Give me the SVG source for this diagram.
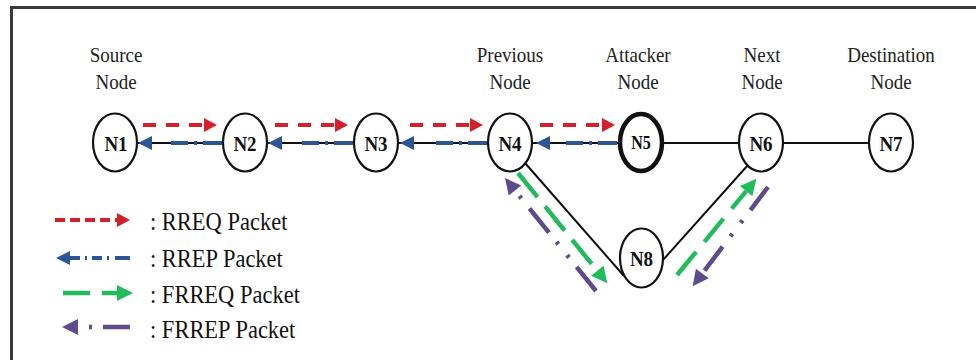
<svg xmlns="http://www.w3.org/2000/svg" width="976" height="360" viewBox="0 0 976 360">
  <style>
    .frame { fill: none; stroke: #3a3a3a; stroke-width: 3; }
    .node ellipse { fill: #ffffff; stroke: #111111; stroke-width: 2.2; }
    .node.attacker ellipse { stroke-width: 4.5; }
    .nlabel { font-family: "Liberation Serif", "Times New Roman", serif; font-weight: bold; font-size: 19px; fill: #111111; text-anchor: middle; }
    .attacker .nlabel { font-size: 16px; }
    .role { font-family: "Liberation Serif", "Times New Roman", serif; font-size: 19px; fill: #222222; text-anchor: middle; }
    .legend-text { font-family: "Liberation Serif", "Times New Roman", serif; font-size: 22.5px; fill: #111111; }
    .link { stroke: #111111; stroke-width: 2; fill: none; }
    .rreq { stroke: #d4202a; stroke-width: 4; fill: none; marker-end: url(#head-red); }
    .rrep { stroke: #2b5594; stroke-width: 4; fill: none; marker-end: url(#head-blue); }
    .frreq { stroke: #22bb5c; stroke-width: 4.5; fill: none; marker-end: url(#head-green); }
    .frrep { stroke: #5e4b8b; stroke-width: 4.5; fill: none; marker-end: url(#head-purple); }
  </style>
  <defs>
    <marker id="head-red" markerUnits="userSpaceOnUse" markerWidth="14" markerHeight="14" refX="0" refY="7" orient="auto" overflow="visible">
      <path d="M0,0 L13,7 L0,14 z" fill="#d4202a"/>
    </marker>
    <marker id="head-blue" markerUnits="userSpaceOnUse" markerWidth="14" markerHeight="14" refX="0" refY="7" orient="auto" overflow="visible">
      <path d="M0,0 L14,7 L0,14 z" fill="#2b5594"/>
    </marker>
    <marker id="head-green" markerUnits="userSpaceOnUse" markerWidth="17" markerHeight="16" refX="0" refY="8" orient="auto" overflow="visible">
      <path d="M0,0 L16,8 L0,16 z" fill="#22bb5c"/>
    </marker>
    <marker id="head-purple" markerUnits="userSpaceOnUse" markerWidth="17" markerHeight="16" refX="0" refY="8" orient="auto" overflow="visible">
      <path d="M0,0 L16,8 L0,16 z" fill="#5e4b8b"/>
    </marker>
  </defs>

  <rect x="0" y="0" width="976" height="360" fill="#ffffff"/>
  <rect class="frame" x="11.5" y="7.5" width="1000" height="400"/>

  <!-- role captions above the nodes -->
  <g id="captions">
    <text class="role" transform="translate(116,62) scale(1,1.1)">Source</text>
    <text class="role" transform="translate(116,89) scale(1,1.1)">Node</text>
    <text class="role" transform="translate(510,62) scale(1,1.1)">Previous</text>
    <text class="role" transform="translate(510,89) scale(1,1.1)">Node</text>
    <text class="role" transform="translate(638,62) scale(1,1.1)">Attacker</text>
    <text class="role" transform="translate(638,89) scale(1,1.1)">Node</text>
    <text class="role" transform="translate(762,62) scale(1,1.1)">Next</text>
    <text class="role" transform="translate(762,89) scale(1,1.1)">Node</text>
    <text class="role" transform="translate(891,62) scale(1,1.1)">Destination</text>
    <text class="role" transform="translate(891,89) scale(1,1.1)">Node</text>
  </g>

  <!-- links and packet flows -->
  <g id="connectors">
    <line class="link" x1="115" y1="143" x2="891" y2="143"/>
    <line class="link" x1="525" y1="163" x2="624" y2="276"/>
    <line class="link" x1="663" y1="260" x2="748" y2="165"/>

    <!-- RREQ: source towards attacker -->
    <line class="rreq" x1="143" y1="125" x2="204" y2="125" stroke-dasharray="13 10"/>
    <line class="rreq" x1="275" y1="125" x2="335" y2="125" stroke-dasharray="13 10"/>
    <line class="rreq" x1="410" y1="125" x2="470" y2="125" stroke-dasharray="13 10"/>
    <line class="rreq" x1="540" y1="125" x2="602" y2="125" stroke-dasharray="13 10"/>

    <!-- RREP: back towards the source -->
    <line class="rrep" x1="222" y1="143" x2="152" y2="143" stroke-dasharray="19 6 3 6 17 40"/>
    <line class="rrep" x1="353" y1="143" x2="282" y2="143" stroke-dasharray="19 6 3 6 17 40"/>
    <line class="rrep" x1="487" y1="143" x2="414" y2="143" stroke-dasharray="19 6 3 6 17 40"/>
    <line class="rrep" x1="617" y1="143" x2="550" y2="143" stroke-dasharray="19 6 3 6 17 40"/>

    <!-- FRREQ: detour through N8 -->
    <line class="frreq" x1="518" y1="173" x2="597.3" y2="270.8" stroke-dasharray="31 12"/>
    <line class="frreq" x1="677" y1="275" x2="746.2" y2="191.1" stroke-dasharray="30 13"/>

    <!-- FRREP: reply along the detour -->
    <line class="frrep" x1="768" y1="187" x2="702.3" y2="273.5" stroke-dasharray="29 13 3 14 3 13 30 10"/>
    <line class="frrep" x1="596" y1="291" x2="515" y2="190.5" stroke-dasharray="31 12 3 14 3 12 31 13 3 20"/>
  </g>

  <!-- nodes -->
  <g id="n1" class="node"><ellipse cx="115" cy="142.5" rx="22" ry="29"/><text class="nlabel" transform="translate(116,151) scale(1,1.15)">N1</text></g>
  <g id="n2" class="node"><ellipse cx="245" cy="142.5" rx="22" ry="29"/><text class="nlabel" transform="translate(245,151) scale(1,1.15)">N2</text></g>
  <g id="n3" class="node"><ellipse cx="376" cy="142.5" rx="22" ry="29"/><text class="nlabel" transform="translate(376,151) scale(1,1.15)">N3</text></g>
  <g id="n4" class="node"><ellipse cx="510" cy="142.5" rx="22" ry="29"/><text class="nlabel" transform="translate(510,151) scale(1,1.15)">N4</text></g>
  <g id="n5" class="node attacker"><ellipse cx="641" cy="142.5" rx="21" ry="28.5"/><text class="nlabel" transform="translate(641,149) scale(1,1.15)">N5</text></g>
  <g id="n6" class="node"><ellipse cx="761" cy="142.5" rx="22" ry="29"/><text class="nlabel" transform="translate(761,151) scale(1,1.15)">N6</text></g>
  <g id="n7" class="node"><ellipse cx="891" cy="142.5" rx="22" ry="29"/><text class="nlabel" transform="translate(891,151) scale(1,1.15)">N7</text></g>
  <g id="n8" class="node"><ellipse cx="641.5" cy="258" rx="21.5" ry="29.5"/><text class="nlabel" transform="translate(641.5,266) scale(1,1.15)">N8</text></g>

  <!-- legend -->
  <g id="legend">
    <line class="rreq" x1="55" y1="220" x2="117" y2="220" stroke-width="3" stroke-dasharray="10 5"/>
    <line class="rrep" x1="130" y1="258" x2="70" y2="258" stroke-width="3" stroke-dasharray="15 6 2 5 10 5 2 5 10"/>
    <line class="frreq" x1="63" y1="293" x2="117" y2="293" stroke-dasharray="27 12"/>
    <line class="frrep" x1="130" y1="327" x2="78" y2="327" stroke-dasharray="27 11 3 20"/>
    <text class="legend-text" transform="translate(150,230) scale(1,1.12)">: RREQ Packet</text>
    <text class="legend-text" transform="translate(150,267) scale(1,1.12)">: RREP Packet</text>
    <text class="legend-text" transform="translate(150,303) scale(1,1.12)">: FRREQ Packet</text>
    <text class="legend-text" transform="translate(150,338) scale(1,1.12)">: FRREP Packet</text>
  </g>
</svg>
